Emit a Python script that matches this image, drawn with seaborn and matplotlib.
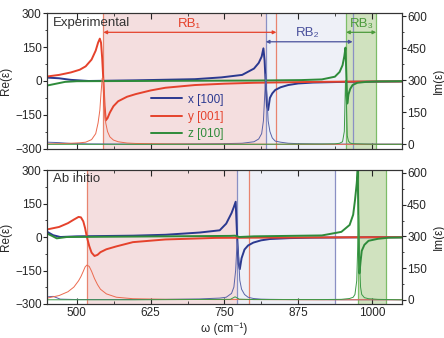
import matplotlib
matplotlib.use("Agg")
import matplotlib.pyplot as plt
from matplotlib.ticker import MultipleLocator
import seaborn as sns

# ---- Experimental (top panel) ----
exp_w_y = [450, 470, 490, 505, 515, 525, 532, 536, 539, 541, 543, 545, 547, 549, 552, 556, 562, 570,
           585, 600, 625, 650, 700, 750, 800, 850, 900, 950, 1000, 1050]
exp_re_y = [20, 27, 38, 50, 65, 95, 135, 170, 188, 170, 100, 0, -110, -175, -165, -140, -112, -90,
            -70, -58, -42, -30, -18, -12, -8, -6, -4, -3, -2, -2]
exp_im_y = [2, 3, 5, 7, 10, 22, 50, 100, 160, 240, 310, 310, 170, 100, 60, 35, 20, 12,
            6, 4, 3, 2, 1, 1, 1, 0, 0, 0, 0, 0]

exp_w_x = [450, 470, 490, 520, 600, 700, 745, 780, 800, 808, 813, 816, 818, 820, 822, 824, 827, 831,
           836, 845, 858, 875, 900, 950, 1000, 1050]
exp_re_x = [15, 12, 5, 0, 3, 8, 16, 27, 55, 80, 108, 145, 90, -20, -110, -129, -75, -55,
            -40, -28, -18, -11, -7, -4, -3, -2]
exp_im_x = [10, 8, 4, 2, 1, 2, 3, 5, 12, 25, 50, 110, 220, 330, 220, 110, 60, 30,
            15, 10, 5, 3, 2, 1, 1, 1]

exp_w_z = [450, 465, 480, 500, 600, 700, 800, 880, 915, 937, 945, 950, 953, 955, 956.5, 958, 960, 963,
           967, 975, 990, 1010, 1050]
exp_re_z = [-20, -12, -4, -1, 0, 1, 2, 4, 7, 19, 40, 70, 110, 148, 20, -100, -60, -35,
            -18, -8, -4, -2, -1]
exp_im_z = [0, 0, 0, 0, 0, 0, 0, 1, 1, 2, 5, 12, 60, 300, 200, 40, 15, 6,
            3, 2, 1, 0, 0]

# ---- Ab initio (bottom panel) ----
abi_w_y = [450, 470, 485, 495, 503, 507, 511, 514, 517, 521, 525, 530, 535, 540, 550, 567, 595, 650,
           735, 800, 900, 1000, 1050]
abi_re_y = [34, 45, 62, 78, 90, 88, 70, 40, 0, -40, -70, -85, -80, -68, -55, -42, -23, -11,
            -4, -3, -2, -1, -1]
abi_im_y = [8, 20, 38, 60, 90, 110, 135, 155, 164, 158, 135, 100, 72, 50, 28, 12, 5, 2,
            1, 1, 0, 0, 0]

abi_w_x = [450, 460, 472, 500, 595, 650, 708, 742, 753, 762, 766, 769, 771.5, 774, 776, 779, 784, 790,
           799, 812, 827, 860, 900, 950, 1000, 1050]
abi_re_x = [23, 8, 0, 3, 6, 10, 20, 30, 60, 107, 135, 158, 0, -120, -144, -95, -56, -38,
            -25, -15, -9, -5, -3, -2, -1, -1]
abi_im_x = [14, 16, 3, 1, 1, 2, 4, 8, 12, 30, 60, 140, 280, 200, 92, 50, 25, 12,
            6, 3, 2, 1, 1, 0, 0, 0]

abi_w_z = [450, 458, 466, 483, 600, 760, 768, 775, 800, 915, 948, 962, 968, 971, 974, 975.7, 977.2, 978.6,
           980.5, 982.5, 987, 994, 1010, 1028, 1050]
abi_re_z = [15, 5, -6, 0, 2, 5, 6, 0, 3, 7, 23, 54, 100, 163, 240, 299, 0, -163,
            -110, -62, -35, -17, -8, -3, -2]
abi_im_z = [0, 0, 0, 0, 0, 2, 14, 3, 1, 1, 2, 6, 12, 25, 90, 250, 400, 200,
            60, 25, 10, 5, 2, 1, 0]

labels = ["x [100]", "y [001]", "z [010]"]
panel_titles = ["Experimental", "Ab initio"]

# bands: (start, end)
exp_bands = {"rb1": (545, 820), "rb2": (820, 956), "rb3": (956, 1007)}
exp_vlines = {"red": [545, 838], "blue": [820, 967], "green": [956, 1007]}
abi_bands = {"rb1": (517, 772), "rb2": (772, 937), "rb3": (977, 1023)}
abi_vlines = {"red": [517, 792], "blue": [772, 937], "green": [977, 1023]}

c_blue, c_red, c_green = "#2b3990", "#e5422c", "#2e8b3a"
t_blue, t_red, t_green = "#5a63a8", "#ec6a4f", "#3c9a46"
band_cols = {"rb1": "#f4dedf", "rb2": "#eef0f7", "rb3": "#d0e2bf"}
vline_cols = {"red": "#e8846f", "blue": "#8a90c4", "green": "#7dbd68"}

sns.set_style("ticks")
plt.rcParams["font.family"] = ["Liberation Sans", "DejaVu Sans"]
plt.rcParams["font.size"] = 8.5

fig = plt.figure(figsize=(4.44, 3.38), dpi=100)
ax_top = fig.add_axes([0.1065, 0.5604, 0.798, 0.400])
ax_bot = fig.add_axes([0.1065, 0.1006, 0.798, 0.3964])

panels = [
    (ax_top, exp_bands, exp_vlines,
     [(exp_w_x, exp_re_x, exp_im_x), (exp_w_y, exp_re_y, exp_im_y), (exp_w_z, exp_re_z, exp_im_z)]),
    (ax_bot, abi_bands, abi_vlines,
     [(abi_w_x, abi_re_x, abi_im_x), (abi_w_y, abi_re_y, abi_im_y), (abi_w_z, abi_re_z, abi_im_z)]),
]

for i, (ax, bands, vlines, series) in enumerate(panels):
    for k, (a, b) in bands.items():
        ax.axvspan(a, b, color=band_cols[k], lw=0, zorder=0)
    for k, xs in vlines.items():
        for xv in xs:
            ax.axvline(xv, color=vline_cols[k], lw=0.9, zorder=1)
    ax2 = ax.twinx()
    for (w, re, im), lab, c, tc in zip(series, labels, [c_blue, c_red, c_green], [t_blue, t_red, t_green]):
        sns.lineplot(x=w, y=im, ax=ax2, color=tc, lw=0.7, legend=False)
        sns.lineplot(x=w, y=re, ax=ax, color=c, lw=1.4, label=lab if i == 0 else None, legend=False)
    ax.set_xlim(450, 1050)
    ax.set_ylim(-300, 300)
    ax2.set_ylim(-20, 614)
    ax.set_yticks([-300, -150, 0, 150, 300])
    ax2.set_yticks([0, 150, 300, 450, 600])
    ax.set_xticks([500, 625, 750, 875, 1000])
    ax.xaxis.set_minor_locator(MultipleLocator(62.5))
    ax.yaxis.set_minor_locator(MultipleLocator(75))
    ax2.yaxis.set_minor_locator(MultipleLocator(75))
    ax.tick_params(axis="x", which="both", direction="in", top=True, labelsize=8.5, pad=2)
    ax.tick_params(axis="x", which="major", length=4)
    ax.tick_params(axis="x", which="minor", length=2.5)
    ax.tick_params(axis="y", which="major", direction="out", length=3, labelsize=8.5, pad=1)
    ax.tick_params(axis="y", which="minor", direction="out", length=1.5)
    ax2.tick_params(axis="y", which="major", direction="out", length=3, labelsize=8.5, pad=1)
    ax2.tick_params(axis="y", which="minor", direction="out", length=1.5)
    ax.set_ylabel("Re(ε)", fontsize=8.5, labelpad=2)
    ax2.set_ylabel("Im(ε)", fontsize=8.5, labelpad=4)
    ax.set_xlabel("")
    for sp in list(ax.spines.values()) + list(ax2.spines.values()):
        sp.set_linewidth(0.8)
        sp.set_color("#333333")
    ax.text(0.015, 0.975, panel_titles[i], transform=ax.transAxes, ha="left", va="top",
            fontsize=9.5, color="#333333")
    if i == 0:
        ax.tick_params(axis="x", labelbottom=False)
    else:
        ax.set_xlabel("ω (cm⁻¹)", fontsize=8.5, labelpad=3)

# RB arrows and labels in the top panel
arrow_specs = [("RB₁", 545, 838, 216, 690, 252, c_red),
               ("RB₂", 820, 967, 174, 891, 212, "#4a519c"),
               ("RB₃", 956, 1007, 216, 982, 252, "#4c9a3c")]
for txt, a, b, yv, tx, ty, col in arrow_specs:
    ax_top.annotate("", xy=(a, yv), xytext=(b, yv),
                    arrowprops=dict(arrowstyle="<|-|>", color=col, lw=0.9,
                                    mutation_scale=5, shrinkA=0, shrinkB=0))
    ax_top.text(tx, ty, txt, ha="center", va="center", fontsize=9.5, color=col)

leg = ax_top.legend(loc="center left", bbox_to_anchor=(0.27, 0.235), frameon=False,
                    fontsize=8.5, handlelength=2.6, labelspacing=0.45, borderpad=0.2,
                    handletextpad=0.5)
for t, c in zip(leg.get_texts(), [c_blue, c_red, c_green]):
    t.set_color(c)

fig.savefig("out.png", dpi=100)
